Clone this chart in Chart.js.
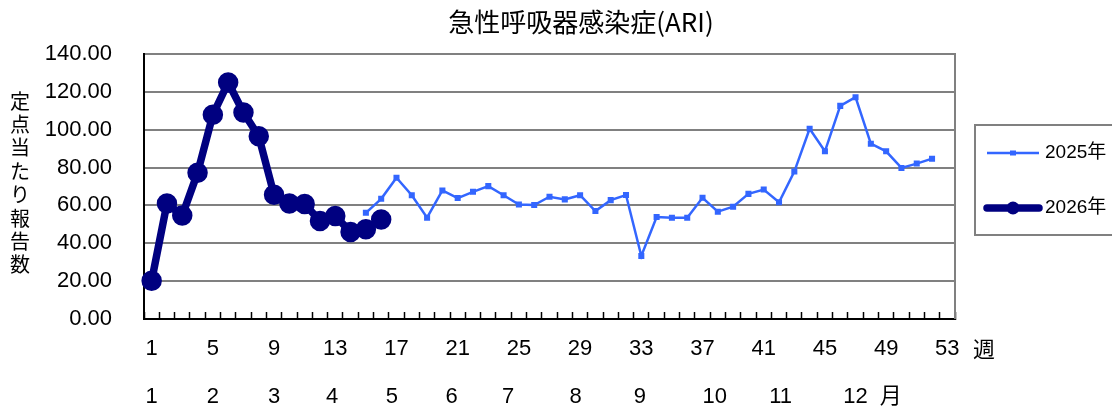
<!DOCTYPE html>
<html><head><meta charset="utf-8">
<script src="https://cdn.jsdelivr.net/npm/chart.js@4/dist/chart.umd.min.js"></script>
<style>html,body{margin:0;padding:0;background:#fff;overflow:hidden}#wrap{width:1112px;height:408px;position:relative}</style>
</head><body><div id="wrap"><canvas id="c" width="1112" height="408"></canvas></div>
<script>
const titleText = '急性呼吸器感染症(ARI)';
const yAxisTitle = '定点当たり報告数';
const weekUnit = '週';
const weekLabels = ['1','2','3','4','5','6','7','8','9','10','11','12','13','14','15','16','17','18','19','20','21','22','23','24','25','26','27','28','29','30','31','32','33','34','35','36','37','38','39','40','41','42','43','44','45','46','47','48','49','50','51','52','53'];
const monthTickWeeks = [1, 5, 9, 12.8, 16.7, 20.6, 24.3, 28.7, 32.9, 37.8, 42.1, 47, 49.3];
const monthLabels = ['1','2','3','4','5','6','7','8','9','10','11','12','月'];
const yTicks = [0, 20, 40, 60, 80, 100, 120, 140];
const seriesNames = ['2025年', '2026年'];
const values2025 = [null,null,null,null,null,null,null,null,null,null,null,null,null,null,
  56.1, 63.5, 74.6, 65.4, 53.5, 67.9, 63.9, 67.2, 70.2, 65.4, 60.5, 60.2, 64.6, 63.2, 65.4, 57.0, 62.8, 65.5, 33.3,
  53.9, 53.5, 53.5, 64.0, 56.7, 59.3, 66.1, 68.4, 61.7, 77.9, 100.5, 88.6, 112.6, 117.2, 92.6, 88.6, 79.8, 82.1, 84.7, null];
const values2026 = [20.2, 61.0, 54.7, 77.2, 107.9, 124.9, 109.1, 96.5, 65.6, 61.0, 60.8, 51.8, 54.4, 46.0, 47.4, 52.6];

const NUMFONT = "'Liberation Sans', 'Noto Sans CJK JP', sans-serif";
const CJKFONT = "'Noto Sans CJK JP', sans-serif";

const decor = {
  id: 'decor',
  beforeDatasetsDraw(chart) {
    const {ctx, chartArea: a} = chart;
    ctx.save();
    ctx.strokeStyle = '#808080'; ctx.lineWidth = 2;
    ctx.beginPath(); ctx.moveTo(a.right, a.top - 1); ctx.lineTo(a.right, a.bottom); ctx.stroke();
    ctx.restore();
  },
  afterDraw(chart) {
    const {ctx} = chart;
    ctx.save();
    ctx.fillStyle = '#000';
    ctx.textBaseline = 'middle';
    // title
    ctx.textAlign = 'center';
    ctx.font = "26px " + CJKFONT;
    ctx.fillText(titleText, 581, 22);
    // y-axis title (vertical)
    ctx.font = "20px " + CJKFONT;
    [...yAxisTitle].forEach((ch, i) => ctx.fillText(ch, 20, 101 + i * 23.4));
    // week unit
    ctx.font = "22px " + CJKFONT;
    ctx.fillText(weekUnit, 984, 349);
    // legend frame (open on the right, cut by the canvas edge)
    ctx.strokeStyle = '#808080'; ctx.lineWidth = 2;
    ctx.beginPath();
    ctx.moveTo(1200, 125); ctx.lineTo(975, 125); ctx.lineTo(975, 235); ctx.lineTo(1200, 235);
    ctx.stroke();
    const ds = chart.data.datasets;
    // 2025
    ctx.strokeStyle = ds[0].borderColor; ctx.lineWidth = ds[0].borderWidth;
    ctx.beginPath(); ctx.moveTo(987, 153); ctx.lineTo(1039, 153); ctx.stroke();
    ctx.fillStyle = ds[0].borderColor;
    ctx.fillRect(1013 - 3, 153 - 2.5, 6, 5);
    // 2026
    ctx.strokeStyle = ds[1].borderColor; ctx.lineWidth = ds[1].borderWidth; ctx.lineCap = 'round';
    ctx.beginPath(); ctx.moveTo(987, 208); ctx.lineTo(1039, 208); ctx.stroke();
    ctx.fillStyle = ds[1].borderColor;
    ctx.beginPath(); ctx.arc(1013, 208, 6.5, 0, Math.PI * 2); ctx.fill();
    ctx.fillStyle = '#000'; ctx.textAlign = 'left';
    ctx.font = "19px " + NUMFONT;
    ctx.fillText(ds[0].label, 1045, 153);
    ctx.fillText(ds[1].label, 1045, 208);
    ctx.restore();
  }
};

new Chart(document.getElementById('c'), {
  type: 'line',
  data: {
    labels: weekLabels,
    datasets: [
      {label: seriesNames[0], data: values2025, borderColor: '#3366FF', backgroundColor: '#3366FF',
       borderWidth: 2.5, pointStyle: 'rect', pointRadius: 2.5, pointHoverRadius: 2.5, tension: 0, order: 2},
      {label: seriesNames[1], data: values2026, borderColor: '#000080', backgroundColor: '#000080',
       borderWidth: 7.5, pointRadius: 6.5, pointHoverRadius: 6.5, tension: 0, order: 1,
       borderCapStyle: 'round', borderJoinStyle: 'round'}
    ]
  },
  options: {
    responsive: false, animation: false, events: [],
    layout: {padding: {left: 0, right: 157, top: 54, bottom: 0}},
    plugins: {legend: {display: false}, title: {display: false}, tooltip: {enabled: false}},
    scales: {
      x: {
        type: 'category', position: 'bottom', offset: true,
        grid: {offset: true, drawOnChartArea: false, drawTicks: true, tickLength: -7, color: '#000', tickWidth: 1.5},
        border: {display: true, color: '#000', width: 2},
        ticks: {autoSkip: false, maxRotation: 0, minRotation: 0, padding: 24, color: '#000',
                font: {family: NUMFONT, size: 22},
                callback: (v, i) => (i % 4 === 0 ? weekLabels[i] : '')},
        afterFit(s) { s.height = 47; }
      },
      x2: {
        type: 'linear', position: 'bottom', min: 0.5, max: 53.5,
        grid: {display: false}, border: {display: false},
        afterBuildTicks(s) { s.ticks = monthTickWeeks.map(v => ({value: v})); },
        ticks: {autoSkip: false, maxRotation: 0, minRotation: 0, padding: 10, color: '#000',
                font: {family: NUMFONT, size: 22},
                callback: (v, i) => monthLabels[i]},
        afterFit(s) { s.height = 42; }
      },
      y: {
        min: 0, max: 140,
        afterBuildTicks(s) { s.ticks = yTicks.map(v => ({value: v})); },
        ticks: {padding: 32, color: '#000', font: {family: NUMFONT, size: 22}, callback: v => Number(v).toFixed(2)},
        grid: {color: '#808080', lineWidth: 2, drawTicks: false},
        border: {color: '#000', width: 2},
        afterFit(s) { s.width = 144; }
      }
    }
  },
  plugins: [decor]
});
</script>
</body></html>
